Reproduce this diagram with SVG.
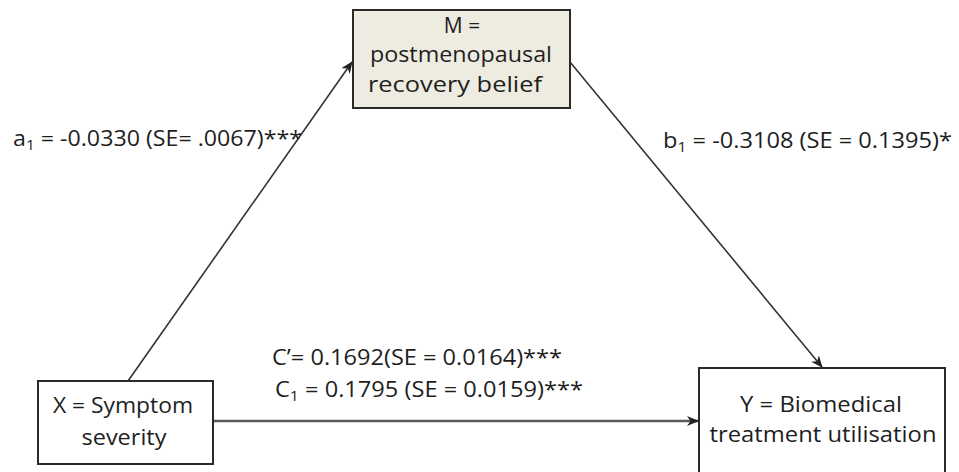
<svg xmlns="http://www.w3.org/2000/svg" width="959" height="472" viewBox="0 0 959 472">
  <style>
    .box { stroke: #2a2a2a; stroke-width: 2; }
    .plain { fill: #ffffff; }
    .mediator { fill: #eeece1; }
    .lbl { font-family: "Open Sans", "Liberation Sans", sans-serif; font-size: 21px; fill: #1e1e1e; }
    .mid { text-anchor: middle; }
    .sub { font-size: 14px; }
    .edge { fill: none; stroke: #333333; stroke-width: 1.6; }
    .edge-h { fill: none; stroke: #5a5a5a; stroke-width: 2.4; }
  </style>
  <defs>
    <marker id="arrow" viewBox="0 0 12 10" refX="11" refY="5" markerWidth="12" markerHeight="10" markerUnits="userSpaceOnUse" orient="auto">
      <path d="M0,0 L12,5 L0,10 L3.5,5 z" fill="#222222"/>
    </marker>
  </defs>

  <rect width="959" height="472" fill="#ffffff"/>

  <!-- connectors -->
  <g id="connectors">
    <line class="edge" x1="128" y1="381" x2="352" y2="62" marker-end="url(#arrow)"/>
    <line class="edge" x1="570" y1="62" x2="822" y2="367" marker-end="url(#arrow)"/>
    <line class="edge-h" x1="213" y1="421" x2="698" y2="421" marker-end="url(#arrow)"/>
  </g>

  <!-- path coefficients -->
  <g id="edge-labels">
    <text class="lbl" x="13" y="146" textLength="289" lengthAdjust="spacingAndGlyphs">a<tspan class="sub" dy="4">1</tspan><tspan dy="-4"> = -0.0330 (SE= .0067)***</tspan></text>
    <text class="lbl" x="663" y="148" textLength="289" lengthAdjust="spacingAndGlyphs">b<tspan class="sub" dy="4">1</tspan><tspan dy="-4"> = -0.3108 (SE = 0.1395)*</tspan></text>
    <text class="lbl" x="272" y="365" textLength="290" lengthAdjust="spacingAndGlyphs">C’= 0.1692(SE = 0.0164)***</text>
    <text class="lbl" x="275" y="397" textLength="308" lengthAdjust="spacingAndGlyphs">C<tspan class="sub" dy="4">1</tspan><tspan dy="-4"> = 0.1795 (SE = 0.0159)***</tspan></text>
  </g>

  <!-- mediator -->
  <g id="node-m">
    <rect class="box mediator" x="353" y="10" width="217" height="98"/>
    <text class="lbl mid" x="462" y="33">M =</text>
    <text class="lbl mid" x="461" y="62" textLength="182" lengthAdjust="spacingAndGlyphs">postmenopausal</text>
    <text class="lbl mid" x="455" y="92" textLength="174" lengthAdjust="spacingAndGlyphs">recovery belief</text>
  </g>

  <!-- predictor -->
  <g id="node-x">
    <rect class="box plain" x="38" y="381" width="175" height="83"/>
    <text class="lbl mid" x="123" y="413" textLength="140" lengthAdjust="spacingAndGlyphs">X = Symptom</text>
    <text class="lbl mid" x="124" y="445" textLength="85" lengthAdjust="spacingAndGlyphs">severity</text>
  </g>

  <!-- outcome -->
  <g id="node-y">
    <rect class="box plain" x="699" y="368" width="246" height="110"/>
    <text class="lbl mid" x="821" y="412" textLength="162" lengthAdjust="spacingAndGlyphs">Y = Biomedical</text>
    <text class="lbl mid" x="823" y="442" textLength="227" lengthAdjust="spacingAndGlyphs">treatment utilisation</text>
  </g>
</svg>
